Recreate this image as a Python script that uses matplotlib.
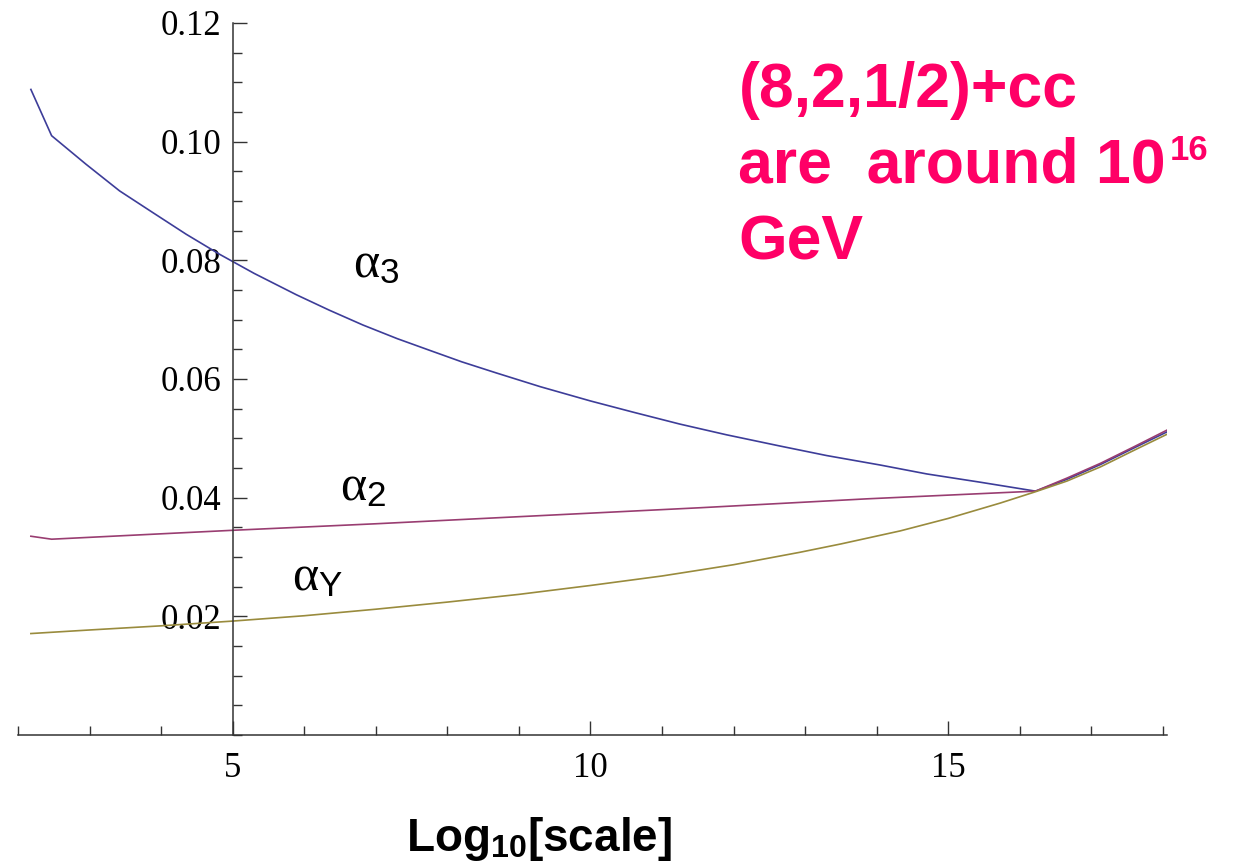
import matplotlib.pyplot as plt
from matplotlib.ticker import MultipleLocator

plt.rcParams['mathtext.fontset'] = 'custom'
plt.rcParams['mathtext.rm'] = 'Liberation Sans'
plt.rcParams['mathtext.it'] = 'Liberation Serif'
plt.rcParams['mathtext.bf'] = 'Liberation Sans:bold'

# values (x = log10 of scale)
x3 = [2.18, 2.47, 2.95, 3.42, 3.89, 4.35, 4.82, 5.3, 5.89, 6.35, 6.82, 7.3, 7.76, 8.2,
      8.69, 9.3, 10.0, 10.6, 11.25, 11.9, 12.65, 13.3, 14.05, 14.7, 15.45, 16.22,
      16.66, 17.13, 17.6, 18.06]
alpha3 = [0.1088, 0.1010, 0.0962, 0.0917, 0.0880, 0.0844, 0.0810, 0.0778, 0.0742, 0.0716,
          0.0691, 0.0668, 0.0648, 0.0629, 0.0610, 0.0587, 0.0563, 0.0544, 0.0524, 0.0506,
          0.0487, 0.0471, 0.0455, 0.0440, 0.0426, 0.0411, 0.0431, 0.0456, 0.0484, 0.0511]

x2 = [2.18, 2.47, 5.0, 7.0, 9.85, 11.53, 13.86, 16.22, 16.66, 17.13, 17.6, 18.06]
alpha2 = [0.0335, 0.0330, 0.0345, 0.0356, 0.0373, 0.0383, 0.0398, 0.0411,
          0.0433, 0.0458, 0.0486, 0.0514]

xY = [2.18, 3, 4, 5, 6, 7, 8, 9, 10, 11, 11.53, 12, 12.93, 13.5, 14.33, 15, 15.73,
      16.22, 16.66, 17.13, 17.6, 18.06]
alphaY = [0.0171, 0.0177, 0.0184, 0.0192, 0.0201, 0.0212, 0.0224, 0.0237, 0.0252, 0.0268,
          0.0278, 0.0287, 0.0308, 0.0322, 0.0344, 0.0365, 0.0391, 0.0410,
          0.0428, 0.0452, 0.0480, 0.0507]

x_major = [5, 10, 15]
y_major = [0.02, 0.04, 0.06, 0.08, 0.10, 0.12]

fig = plt.figure(figsize=(12.41, 8.64), dpi=100)
ax = fig.add_axes([0.0145, 0.1493, 0.926, 0.8241])

ax.plot(x3, alpha3, color=(0.24, 0.24, 0.6), lw=1.2)
ax.plot(x2, alpha2, color=(0.6, 0.24, 0.4428), lw=1.2)
ax.plot(xY, alphaY, color=(0.6, 0.547, 0.24), lw=1.2)

ax.set_xlim(2.0, 18.06)
ax.set_ylim(0, 0.12)

# Mathematica-style axes crossing at (5, 0)
ax.spines['top'].set_visible(False)
ax.spines['right'].set_visible(False)
ax.spines['left'].set_position(('data', 5))
ax.spines['bottom'].set_position(('data', 0))
for s in ['left', 'bottom']:
    ax.spines[s].set_color('#333333')
    ax.spines[s].set_linewidth(1.1)

ax.set_xticks(x_major)
ax.set_xticklabels([str(v) for v in x_major])
ax.xaxis.set_minor_locator(MultipleLocator(1))
ax.set_yticks(y_major)
ax.set_yticklabels(['%.2f' % v for v in y_major])
ax.yaxis.set_minor_locator(MultipleLocator(0.005))

ax.tick_params(which='both', direction='in', color='#333333', width=1.0,
               labelsize=25, labelfontfamily='Liberation Serif')
ax.tick_params(which='major', length=10)
ax.tick_params(which='minor', length=6.5)
ax.tick_params(axis='x', pad=12)
ax.tick_params(axis='y', pad=8)

# curve labels
ax.text(6.68, 0.0772, r'$\alpha_3$', fontsize=36, ha='left', va='baseline')
ax.text(6.50, 0.0396, r'$\alpha_2$', fontsize=36, ha='left', va='baseline')
ax.text(5.83, 0.0244, r'$\alpha_\mathrm{Y}$', fontsize=36, ha='left', va='baseline')

# annotation in magenta
red = '#FF0066'
fig.text(0.595, 0.8762, '(8,2,1/2)+cc', color=red, fontsize=45, fontweight='bold',
         family='Liberation Sans', va='baseline')
t = fig.text(0.595, 0.7882, 'are  around 10', color=red, fontsize=45, fontweight='bold',
             family='Liberation Sans', va='baseline')
ax.annotate('16', xy=(1.0, 1.0), xycoords=t, xytext=(3, 2), textcoords='offset points',
            color=red, fontsize=25, fontweight='bold', family='Liberation Sans', va='top')
fig.text(0.595, 0.6991, 'GeV', color=red, fontsize=45, fontweight='bold',
         family='Liberation Sans', va='baseline')

fig.text(0.434, 0.015, r'Log$_{\mathbf{10}}$[scale]', fontsize=33, fontweight='bold',
         family='Liberation Sans', ha='center', va='baseline')

plt.savefig('out.png', dpi=100)
